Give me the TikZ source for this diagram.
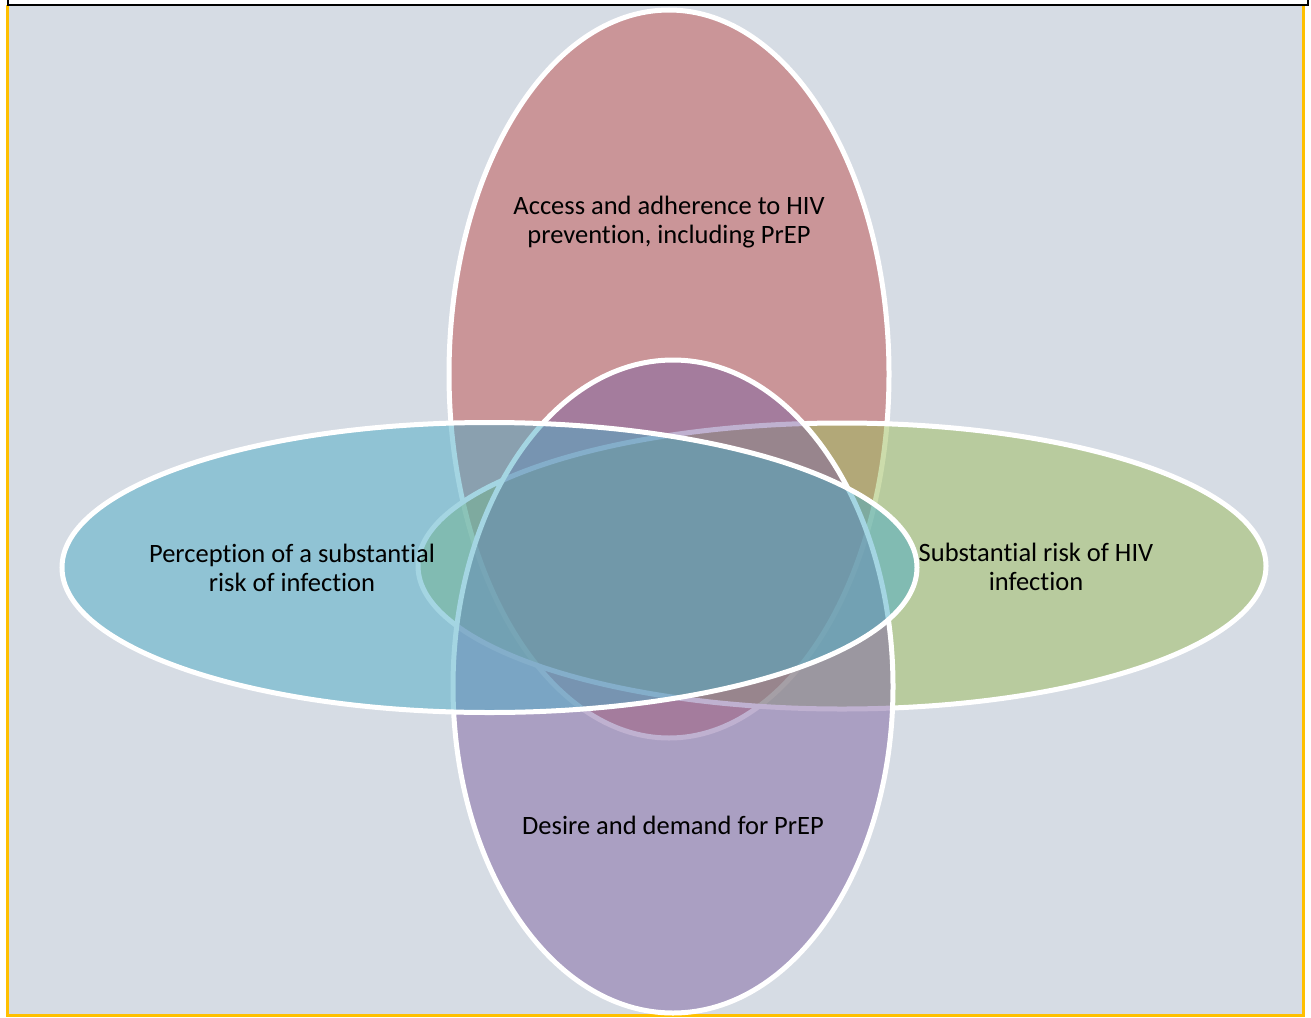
\documentclass[tikz,border=0pt]{standalone}
\usepackage{fontspec}
\setmainfont[Ligatures=NoCommon]{Carlito}
\definecolor{bgc}{HTML}{D6DCE4}
\definecolor{redc}{HTML}{C0504D}
\definecolor{greenc}{HTML}{9BBB59}
\definecolor{purplec}{HTML}{8064A2}
\definecolor{bluec}{HTML}{4BACC6}
\definecolor{framey}{HTML}{FFC000}
\begin{document}
\begin{tikzpicture}[x=1pt,y=-1pt,
  venn/.style={draw=white,line width=5pt,fill opacity=0.5},
  lbl/.style={align=center,font=\fontsize{26.5}{29}\selectfont,text=black,inner sep=0pt}]
\useasboundingbox (0,0) rectangle (1311,1017);
\fill[white] (0,0) rectangle (1311,1017);
\fill[bgc] (7.5,5) rectangle (1303.5,1015.5);
\draw[framey,line width=2.5pt] (7.5,5) -- (7.5,1015.5) -- (1303.5,1015.5) -- (1303.5,5);
\draw[black,line width=2pt] (7.5,-10) -- (7.5,5) -- (1307.5,5) -- (1307.5,-10);
% ellipses
\path[venn,fill=redc] (669,374) ellipse [x radius=220,y radius=364];
\path[venn,fill=greenc] (842,566) ellipse [x radius=424,y radius=143];
\path[venn,fill=purplec] (673,686.5) ellipse [x radius=220,y radius=326.5];
\path[venn,fill=bluec] (489.5,567.5) ellipse [x radius=427.5,y radius=145];
% labels
\node[lbl] (access) at (669,222) {Access and adherence to HIV\\prevention, including PrEP};
\node[lbl] (perception) at (292,568) {Perception of a substantial\\risk of infection};
\node[lbl] (risk) at (1036,567) {Substantial risk of HIV\\infection};
\node[lbl] (desire) at (673,825) {Desire and demand for PrEP};
\end{tikzpicture}
\end{document}
